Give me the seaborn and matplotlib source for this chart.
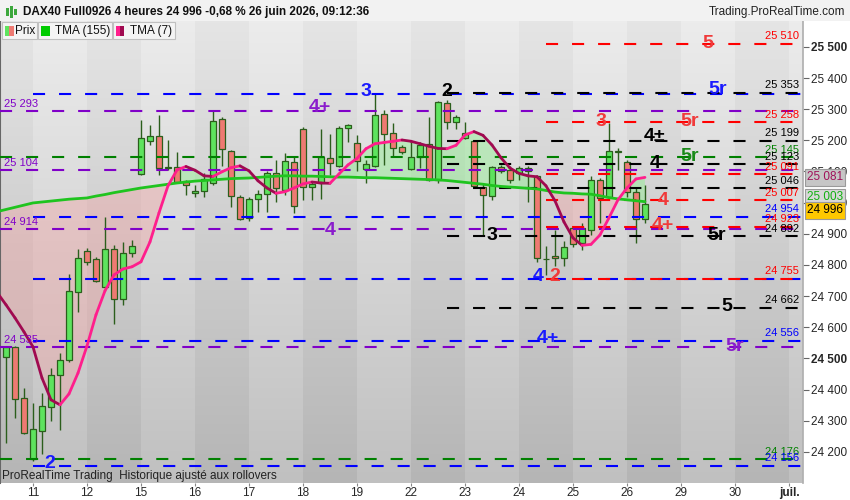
import numpy as np
import matplotlib
matplotlib.use("Agg")
import matplotlib.pyplot as plt
import matplotlib.transforms as mtransforms
from matplotlib.collections import LineCollection
from matplotlib.patches import Rectangle
import seaborn as sns

# DAX40 4h bars: last 3 bars of the 10th, then 11 .. 26 June
opens = [24503, 24538, 24372, 24177, 24268, 24343, 24446, 24495, 24712, 24846, 24818, 24729,
         24850, 24690, 24838, 25091, 25199, 25214, 25114, 25113, 25070, 25030, 25037, 25062,
         25268, 25167, 25019, 24950, 25011, 25027, 25094, 25041, 25130, 25236, 25050, 25062,
         25143, 25119, 25239, 25191, 25107, 25119, 25284, 25223, 25178, 25107, 25146, 25188,
         25073, 25319, 25260, 25207, 25198, 25050, 25022, 25114, 25105, 25095, 25110, 25084,
         24820, 24829, 24822, 24918, 24870, 24913, 25073, 25017, 25164, 25132, 25035, 24947]
highs = [24540, 24541, 24404, 24356, 24388, 24469, 24517, 24770, 24852, 24855, 24825, 24955,
         24864, 24875, 24880, 25266, 25250, 25282, 25201, 25164, 25073, 25057, 25095, 25298,
         25276, 25170, 25025, 25019, 25039, 25100, 25137, 25159, 25148, 25242, 25066, 25236,
         25221, 25246, 25251, 25217, 25137, 25349, 25298, 25257, 25185, 25196, 25194, 25276,
         25326, 25330, 25282, 25260, 25201, 25062, 25117, 25121, 25116, 25117, 25117, 25090,
         24862, 24913, 24878, 24920, 24934, 25084, 25078, 25255, 25175, 25137, 25046, 25057]
lows = [24229, 24308, 24258, 24172, 24192, 24300, 24270, 24490, 24650, 24800, 24745, 24725,
        24610, 24671, 24827, 25089, 25185, 25089, 25105, 25062, 25025, 25019, 25019, 25057,
        25116, 24985, 24945, 24940, 24971, 24971, 25003, 25025, 24966, 25009, 25009, 25011,
        25089, 25114, 25193, 25103, 25062, 25114, 25121, 25146, 25156, 25105, 25110, 25068,
        25064, 25236, 25236, 25204, 25046, 24896, 25009, 25095, 25062, 25073, 25003, 24811,
        24768, 24795, 24795, 24858, 24848, 24896, 24934, 25014, 25105, 25019, 24870, 24934]
closes = [24538, 24369, 24262, 24273, 24347, 24446, 24495, 24716, 24822, 24809, 24749, 24850,
          24690, 24838, 24861, 25207, 25214, 25110, 25112, 25066, 25056, 25038, 25076, 25263,
          25172, 25022, 24948, 25011, 25027, 25094, 25046, 25135, 24990, 25050, 25060, 25145,
          25127, 25239, 25249, 25135, 25123, 25282, 25221, 25175, 25164, 25145, 25185, 25073,
          25322, 25260, 25274, 25223, 25054, 25025, 25114, 25100, 25073, 25111, 25100, 24822,
          24818, 24822, 24857, 24868, 24918, 25073, 25014, 25166, 25164, 25035, 24947, 24996]

# moving averages, first value is the bar before the window
tma155 = [24971, 24978, 24985, 24992, 24999, 25002, 25005, 25008, 25011, 25013, 25015, 25021,
          25026, 25032, 25037, 25042, 25047, 25051, 25055, 25059, 25063, 25066, 25069, 25071,
          25073, 25075, 25077, 25078, 25079, 25081, 25083, 25085, 25086, 25086, 25085, 25085,
          25084, 25083, 25082, 25082, 25081, 25080, 25080, 25079, 25078, 25077, 25076, 25075,
          25074, 25073, 25071, 25068, 25065, 25062, 25059, 25055, 25052, 25050, 25048, 25046,
          25044, 25039, 25034, 25031, 25030, 25028, 25027, 25022, 25016, 25012, 25009, 25006,
          25003]
tma7 = [24712, 24672, 24630, 24585, 24537, 24437, 24367, 24351, 24386, 24453, 24540, 24640,
        24717, 24768, 24787, 24794, 24810, 24874, 24967, 25054, 25105, 25116, 25104, 25086,
        25084, 25099, 25112, 25118, 25102, 25070, 25047, 25030, 25035, 25047, 25060, 25066,
        25063, 25062, 25092, 25121, 25142, 25173, 25189, 25193, 25197, 25201, 25197, 25189,
        25181, 25174, 25173, 25184, 25217, 25228, 25216, 25185, 25144, 25111, 25094, 25086,
        25083, 25054, 25006, 24938, 24887, 24863, 24866, 24896, 24951, 25009, 25047, 25076,
        25081]

# support / resistance levels: value, colour, first bar, label side
lvl_values = [25510, 25349, 25353, 25293, 25258, 25199, 25145, 25123, 25104, 25091, 25046,
              25007, 24954, 24923, 24914, 24892, 24755, 24755, 24662, 24556, 24535, 24176, 24156]
lvl_colors = ["red", "blue", "black", "purple", "red", "black", "green", "black", "purple",
              "red", "black", "red", "blue", "red", "purple", "black", "blue", "red", "black",
              "blue", "purple", "green", "blue"]
lvl_start = [60, 3, 49, -1, 60, 49, -1, 49, -1, 60, 49, 60, 3, 60, -1, 49, 3, 60, 49, 3, -1, -1, 3]
lvl_label = ["right", "", "right", "left", "right", "right", "right", "right", "left", "right",
             "right", "right", "right", "right", "left", "right", "", "right", "right", "right",
             "left", "right", "right"]

day_labels = ["11", "12", "15", "16", "17", "18", "19", "22", "23", "24", "25", "26", "29", "30", "juil."]

waves = [("2", "blue", 4.9, 24164), ("3", "blue", 40, 25356), ("4+", "purple", 34.9, 25304),
         ("4", "purple", 36, 24909), ("2", "black", 49, 25356), ("3", "black", 54, 24893),
         ("4", "blue", 59.1, 24762), ("2", "red", 61, 24762), ("4+", "blue", 60.2, 24563),
         ("3", "red", 66.1, 25262), ("4±", "black", 72.1, 25211), ("4", "black", 72.1, 25124),
         ("4", "red", 73, 25006), ("4+", "red", 73, 24925), ("5r", "red", 76, 25259),
         ("5r", "green", 76, 25147), ("5", "red", 78, 25510), ("5r", "blue", 79.1, 25362),
         ("5r", "black", 79, 24893), ("5", "black", 80.1, 24665), ("5r", "purple", 81, 24537)]

palette = {"red": "#ff0000", "blue": "#0000ff", "black": "#000000", "purple": "#8000c8",
           "green": "#008000"}
wave_palette = {"red": "#f03a3a", "blue": "#1a1aff", "black": "#000000", "purple": "#8a1ccc",
                "green": "#1a8a1a"}

sns.set_theme(style="white")
plt.rcParams["font.family"] = ["Liberation Sans", "DejaVu Sans"]

fig = plt.figure(figsize=(8.5, 5), dpi=100)
fig.patch.set_facecolor("white")
ax = fig.add_axes([0, 17 / 500, 803 / 850, 462 / 500])

x0, x1 = -0.667, 88.56
y0, y1 = 24100, 25583

# background: day bands with vertical gradient
xs = np.linspace(x0, x1, 1600)
band = np.floor((xs - 3) / 6).astype(int)
dark = (band % 2 == 1) & (xs < 87)
t = np.linspace(0, 1, 300)[:, None]
light_v = 236 - 44 * t
dark_v = 229 - 48 * t
img = np.where(dark[None, :], dark_v, light_v) / 255
ax.imshow(np.dstack([img] * 3), extent=(x0, x1, y0, y1), aspect="auto", zorder=0,
          interpolation="nearest")

idx = np.arange(len(closes))
o, h, l, c = map(np.array, (opens, highs, lows, closes))
idx_ma = np.arange(-1, len(closes))
ma_slow = np.array(tma155, float)
ma_fast = np.array(tma7, float)

# fill between the two averages
ax.fill_between(idx_ma, ma_fast, ma_slow, where=ma_fast >= ma_slow, interpolate=True,
                color="#8ff08f", alpha=0.45, lw=0, zorder=1)
ax.fill_between(idx_ma, ma_fast, ma_slow, where=ma_fast < ma_slow, interpolate=True,
                color="#f4a0a0", alpha=0.38, lw=0, zorder=1)

# candles
edge = "#2b5e1c"
up = c >= o
ax.vlines(idx, l, h, color=edge, lw=1, zorder=3)
ax.bar(idx, np.maximum(np.abs(c - o), 2), bottom=np.minimum(o, c), width=0.76,
       color=np.where(up, "#5ee35e", "#ee7a72"), edgecolor=edge, linewidth=0.9, zorder=3)

# levels
for v, col, st, side in zip(lvl_values, lvl_colors, lvl_start, lvl_label):
    ax.plot([st if st >= 0 else x0, x1], [v, v], color=palette[col], lw=1.5,
            dashes=(5.8, 6.7), zorder=4)
    if side == "right":
        ax.text(88.1, v + 8, f"{v:,}".replace(",", " "), color=palette[col], fontsize=8,
                ha="right", va="bottom", zorder=6)
    elif side == "left":
        ax.text(-0.2, v + 8, f"{v:,}".replace(",", " "), color=palette[col], fontsize=8,
                ha="left", va="bottom", zorder=6)

# TMA 155
sns.lineplot(x=idx_ma, y=ma_slow, color="#1fc41f", lw=2, ax=ax, zorder=5)

# TMA 7, coloured by direction
pts = np.column_stack([idx_ma, ma_fast])
segs = np.stack([pts[:-1], pts[1:]], axis=1)
seg_cols = np.where(np.diff(ma_fast) >= 0, "#ff1e8c", "#a00a50")
ax.add_collection(LineCollection(segs, colors=seg_cols, linewidths=2, zorder=5,
                                 capstyle="round"))

for txt, col, xi, yv in waves:
    ax.text(xi, yv, txt, color=wave_palette[col], fontsize=14, fontweight="bold",
            ha="center", va="center", zorder=7)

ax.text(-0.4, 24122, "ProRealTime Trading  Historique ajusté aux rollovers", fontsize=8.5,
        color="#222222", ha="left", va="center", zorder=7)

ax.set_xlim(x0, x1)
ax.set_ylim(y0, y1)
ax.set_xlabel("")
ax.set_ylabel("")

# axes
ax.yaxis.tick_right()
yt = np.arange(24200, 25501, 100)
ax.set_yticks(yt)
ax.set_yticklabels([f"{v:,}".replace(",", " ") for v in yt], fontsize=8.5)
for lab, v in zip(ax.get_yticklabels(), yt):
    if v % 1000 == 500:
        lab.set_fontweight("bold")
ax.tick_params(axis="y", right=True, length=4, width=0.8, color="#666666", pad=2)
ax.set_xticks(np.arange(3, 88, 6))
ax.set_xticklabels(day_labels, fontsize=8.5)
ax.get_xticklabels()[-1].set_fontweight("bold")
ax.tick_params(axis="x", bottom=True, length=2, width=0.8, color="#888888", pad=1)
for s in ["top", "bottom"]:
    ax.spines[s].set_visible(False)
ax.spines["right"].set_color("#b0b0b0")
ax.spines["left"].set_color("#666666")
ax.spines["left"].set_linewidth(1.5)

# value badges on the price scale
trans = mtransforms.blended_transform_factory(ax.transAxes, ax.transData)
badges = [("25 081", "#a0105a", "#c6c6c6", 25081), ("25 003", "#10b010", "#d8d8d8", 25017),
          ("24 996", "#000000", "#ffc800", 24975)]
for txt, tc, bc, yv in badges:
    ax.text(1.005, yv, txt, transform=trans, color=tc, fontsize=8.5, ha="left", va="center",
            bbox=dict(boxstyle="square,pad=0.18", fc=bc, ec="#9a9a9a", lw=0.8), zorder=8,
            clip_on=False)

# title row
fig.patches.append(Rectangle((0, 479 / 500), 1, 21 / 500, transform=fig.transFigure,
                             fc="#f2f2f2", ec="none", zorder=0))
fig.text(23 / 850, 1 - 12 / 500, "DAX40 Full0926 4 heures 24 996 -0,68 % 26 juin 2026, 09:12:36",
         fontsize=8.5, fontweight="bold", ha="left", va="center", color="#111111")
fig.text(845 / 850, 1 - 12 / 500, "Trading.ProRealTime.com", fontsize=8.5, ha="right",
         va="center", color="#222222")
for bx, bh, col in [(6, 8, "#3da83d"), (10, 12, "#3da83d"), (14, 6, "#3da83d")]:
    fig.patches.append(Rectangle((bx / 850, (488 - bh / 2) / 500), 2.5 / 850, bh / 500,
                                 transform=fig.transFigure, fc=col, ec="none"))

# legend row
def fig_rect(x, y, w, hh, fc, ec="none"):
    fig.patches.append(Rectangle((x / 850, 1 - (y + hh) / 500), w / 850, hh / 500,
                                 transform=fig.transFigure, fc=fc, ec=ec, lw=0.8, zorder=9))

legend_items = [("Prix", 2, 35, ["#5ee35e", "#ee7a72"], 15),
                ("TMA (155)", 38, 74, ["#00cc00", "#00cc00"], 55),
                ("TMA (7)", 113, 62, ["#ff1e8c", "#a00a50"], 130)]
for name, bx, bw, sw, tx in legend_items:
    fig_rect(bx, 22, bw, 17, "#f4f4f4", "#c0c0c0")
    fig_rect(bx + 2.5, 26, 4.5, 10, sw[0])
    fig_rect(bx + 7, 26, 4.5, 10, sw[1])
    fig.text(tx / 850, 1 - 31 / 500, name, fontsize=8.5, ha="left", va="center",
             color="#111111", zorder=10)

fig.savefig("out.png", dpi=100)
